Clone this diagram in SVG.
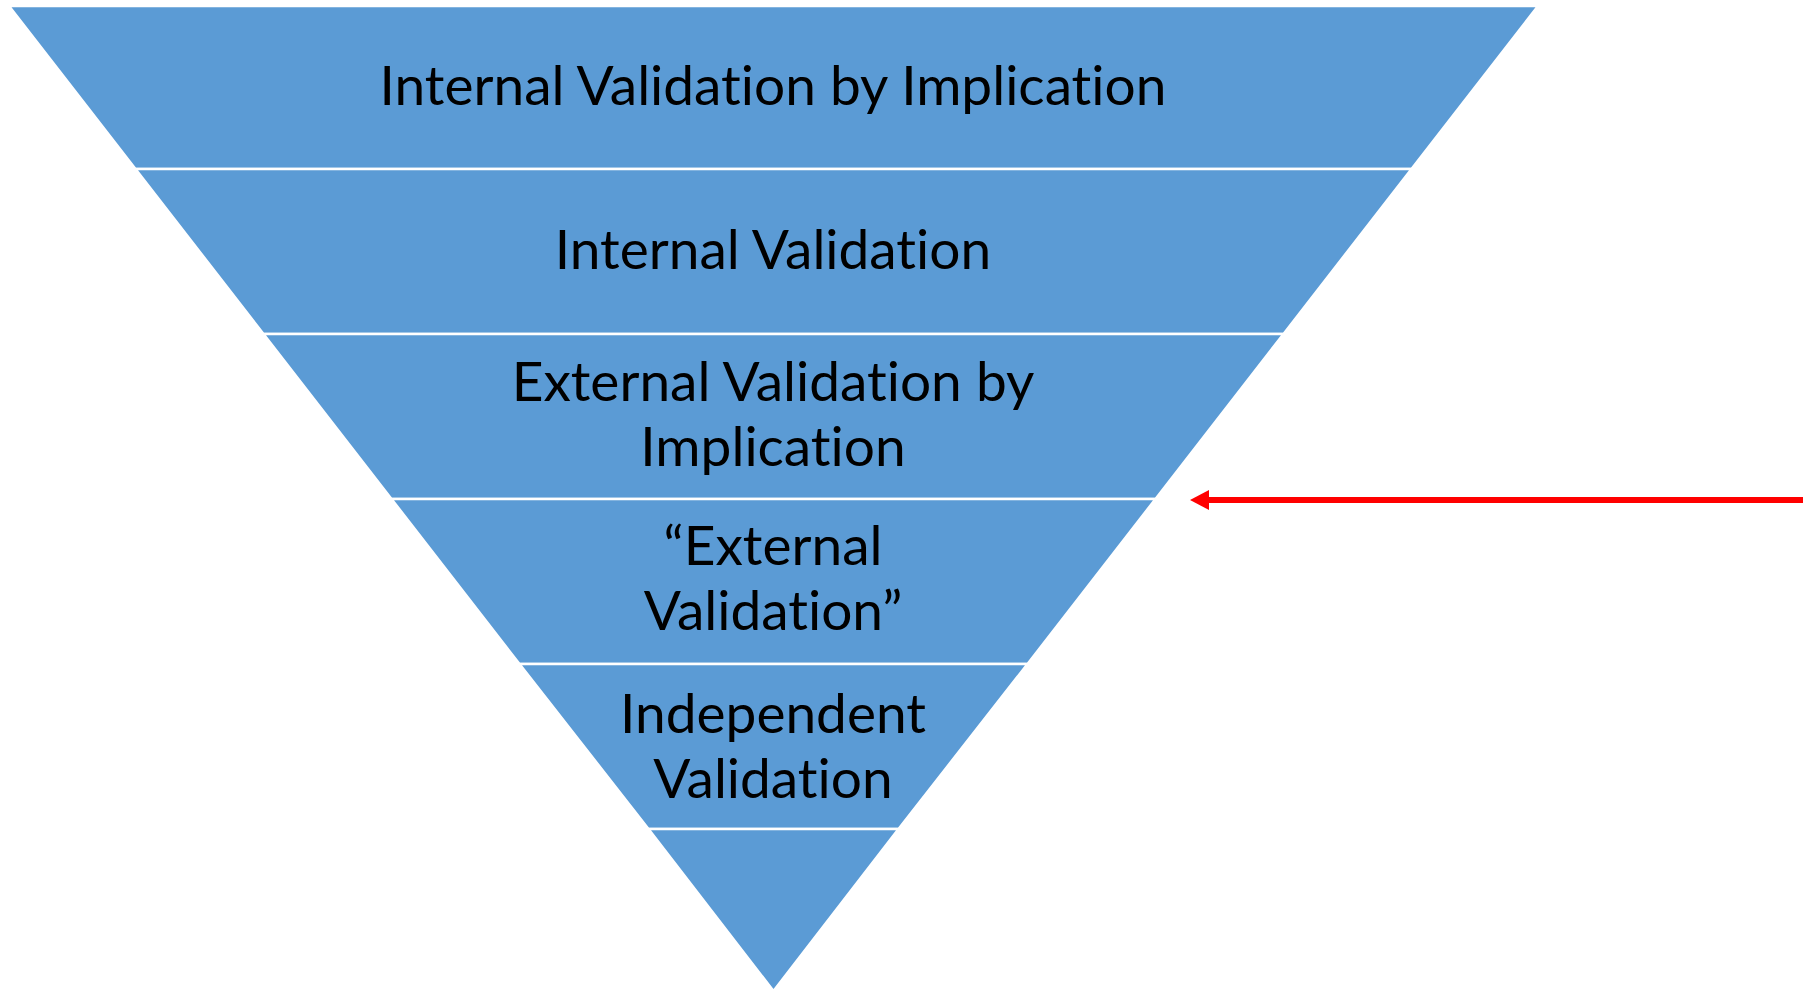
<svg xmlns="http://www.w3.org/2000/svg" width="1803" height="989" viewBox="0 0 1803 989">
<style>
.band{fill:#5B9BD5;stroke:#FFFFFF;stroke-width:2.5}
.lbl{font-family:Lato,"Open Sans",sans-serif;font-size:55px;fill:#000000;text-anchor:middle;font-variant-ligatures:none}
</style>
<rect width="1803" height="989" fill="#FFFFFF"/>
<g id="band1"><polygon class="band" points="9,6 1538,6 1411.5,169 135.5,169"/><text class="lbl" x="773" y="105">Internal Validation by Implication</text></g>
<g id="band2"><polygon class="band" points="135.5,169 1411.5,169 1283.5,334 263.5,334"/><text class="lbl" x="773" y="269">Internal Validation</text></g>
<g id="band3"><polygon class="band" points="263.5,334 1283.5,334 1155.5,499 391.5,499"/><text class="lbl" x="773" y="401">External Validation by</text><text class="lbl" x="773" y="466">Implication</text></g>
<g id="band4"><polygon class="band" points="391.5,499 1155.5,499 1027.5,664 519.5,664"/><text class="lbl" x="773" y="565">“External</text><text class="lbl" x="773" y="630">Validation”</text></g>
<g id="band5"><polygon class="band" points="519.5,664 1027.5,664 898.5,829 648.5,829"/><text class="lbl" x="773" y="733">Independent</text><text class="lbl" x="773" y="798">Validation</text></g>
<g id="band6"><polygon class="band" points="648.5,829 898.5,829 773.5,991"/></g>
<g id="connectors">
<line x1="1803" y1="500" x2="1209" y2="500" stroke="#FF0000" stroke-width="6"/>
<path d="M1190,500 L1209,490 L1209,510 Z" fill="#FF0000"/>
</g>
</svg>
